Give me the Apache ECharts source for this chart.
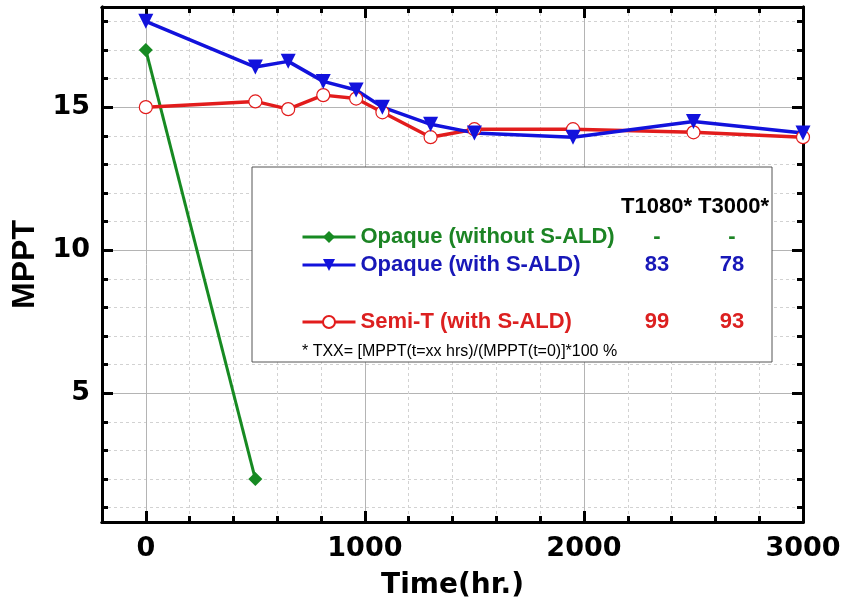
<!DOCTYPE html>
<html>
<head>
<meta charset="utf-8">
<title>MPPT vs Time</title>
<script src="https://cdn.jsdelivr.net/npm/echarts@6/dist/echarts.min.js"></script>
<style>
  html, body { margin: 0; padding: 0; background: #fff; }
  #main { width: 854px; height: 609px; }
</style>
</head>
<body>
<div id="main"></div>
<script>
// data
var opaqueNoAld = [[0, 17.0], [500, 2.0]];
var opaqueAld = [[0, 18.0], [500, 16.4], [650, 16.6], [810, 15.9], [960, 15.6], [1080, 15.0],
  [1300, 14.4], [1500, 14.1], [1950, 13.95], [2500, 14.5], [3000, 14.1]];
var semiT = [[0, 15.0], [500, 15.2], [650, 14.93], [810, 15.42], [960, 15.3], [1080, 14.82],
  [1300, 13.95], [1500, 14.23], [1950, 14.23], [2500, 14.12], [3000, 13.95]];

var xMajor = [0, 1000, 2000, 3000];
var yMajor = [5, 10, 15];
var yMinor = [1, 2, 3, 4, 5, 6, 7, 8, 9, 10, 11, 12, 13, 14, 15, 16, 17, 18];

// legend table values
var tableHead = 'T1080* T3000*';
var t1080 = ['-', '83', '99'];
var t3000 = ['-', '78', '93'];
var footnote = '* TXX= [MPPT(t=xx hrs)/(MPPT(t=0)]*100 %';

var green = '#178a22', blue = '#1212dc', red = '#e21c1c';
var greenTxt = '#1c8424', blueTxt = '#1818b8', redTxt = '#dc2020';

var chart = echarts.init(document.getElementById('main'));

var axisLine = { show: true, onZero: false, lineStyle: { color: '#000', width: 3 } };
var bold = { fontFamily: 'DejaVu Sans', fontWeight: 'bold', color: '#000' };

function xAxis(pos, major) {
  var a = {
    type: 'value', position: pos, min: -200, max: 3000,
    axisLine: axisLine,
    axisTick: { show: true, inside: true, length: major ? 11 : 6, lineStyle: { color: '#000', width: 3 } },
    axisLabel: { show: false },
    splitLine: { show: false }
  };
  if (major) {
    a.axisTick.customValues = xMajor;
    if (pos === 'bottom') {
      a.axisLabel = Object.assign({ show: true, fontSize: 27, margin: 13, customValues: xMajor,
        formatter: function (v) { return String(v); } }, bold);
      a.splitLine = { show: true, lineStyle: { color: '#b4b4b4', width: 1 } };
      a.name = 'Time(hr.)';
      a.nameLocation = 'middle';
      a.nameGap = 50;
      a.nameTextStyle = Object.assign({ fontSize: 28 }, bold);
    }
  } else {
    a.interval = 200;
    if (pos === 'bottom') {
      a.splitLine = { show: true, lineStyle: { color: '#d2d2d2', width: 1, type: [3, 3] } };
    }
  }
  return a;
}

function yAxis(pos, major) {
  var a = {
    type: 'value', position: pos, min: 0.5, max: 18.5,
    axisLine: axisLine,
    axisTick: { show: true, inside: true, length: major ? 11 : 6, customValues: major ? yMajor : yMinor,
      lineStyle: { color: '#000', width: 3 } },
    axisLabel: { show: false },
    splitLine: { show: false }
  };
  if (pos === 'left') {
    if (major) {
      a.axisLabel = Object.assign({ show: true, fontSize: 27, margin: 12, customValues: yMajor }, bold);
      a.splitLine = { show: true, lineStyle: { color: '#b4b4b4', width: 1 } };
      a.name = 'MPPT';
      a.nameLocation = 'middle';
      a.nameGap = 56;
      a.nameTextStyle = { fontFamily: 'Liberation Sans', fontWeight: 'bold', fontSize: 32, color: '#000' };
    } else {
      a.splitLine = { show: true, lineStyle: { color: '#d2d2d2', width: 1, type: [3, 3] } };
    }
  }
  return a;
}

var legendFont = { fontFamily: 'Liberation Sans', fontWeight: 'bold', fontSize: 22 };

var graphics = [
  { type: 'rect', z: 1, shape: { x: 252, y: 167, width: 520, height: 195 },
    style: { fill: '#fff', stroke: '#555', lineWidth: 1 } },
  { type: 'text', z: 5, x: 695, y: 207,
    style: Object.assign({ text: tableHead, fill: '#000', align: 'center', verticalAlign: 'middle' }, legendFont) },
  { type: 'text', z: 5, x: 302, y: 352,
    style: { text: footnote, fill: '#000', fontFamily: 'Liberation Sans', fontSize: 16, verticalAlign: 'middle' } }
];
var rowY = [237, 265, 322];
var rowColor = [greenTxt, blueTxt, redTxt];
for (var i = 0; i < 3; i++) {
  graphics.push({ type: 'text', z: 5, x: 657, y: rowY[i],
    style: Object.assign({ text: t1080[i], fill: rowColor[i], align: 'center', verticalAlign: 'middle' }, legendFont) });
  graphics.push({ type: 'text', z: 5, x: 732, y: rowY[i],
    style: Object.assign({ text: t3000[i], fill: rowColor[i], align: 'center', verticalAlign: 'middle' }, legendFont) });
}

chart.setOption({
  animation: false,
  backgroundColor: '#fff',
  grid: { left: 102, right: 51, top: 7, bottom: 87, containLabel: false },
  xAxis: [xAxis('bottom', false), xAxis('bottom', true), xAxis('top', false), xAxis('top', true)],
  yAxis: [yAxis('left', false), yAxis('left', true), yAxis('right', false), yAxis('right', true)],
  legend: [
    { left: 301, top: 226, padding: 0, orient: 'vertical', itemGap: 6, itemWidth: 53, itemHeight: 15,
      textStyle: legendFont, lineStyle: { width: 3 },
      data: [{ name: 'Opaque (without S-ALD)', textStyle: { color: greenTxt } },
             { name: 'Opaque (with S-ALD)', textStyle: { color: blueTxt } }] },
    { left: 301, top: 311, padding: 0, orient: 'vertical', itemWidth: 53, itemHeight: 15,
      textStyle: legendFont, lineStyle: { width: 3 },
      data: [{ name: 'Semi-T (with S-ALD)', textStyle: { color: redTxt } }] }
  ],
  graphic: graphics,
  series: [
    { name: 'Opaque (without S-ALD)', type: 'line', data: opaqueNoAld, symbol: 'diamond', symbolSize: 14,
      lineStyle: { color: green, width: 3 }, itemStyle: { color: green } },
    { name: 'Semi-T (with S-ALD)', type: 'line', data: semiT, symbol: 'circle', symbolSize: 13,
      lineStyle: { color: red, width: 3.5 }, itemStyle: { color: '#fff', borderColor: red, borderWidth: 1.2 } },
    { name: 'Opaque (with S-ALD)', type: 'line', data: opaqueAld, symbol: 'triangle', symbolRotate: 180,
      symbolSize: 15, lineStyle: { color: blue, width: 3.5 }, itemStyle: { color: blue } }
  ]
});
</script>
</body>
</html>
